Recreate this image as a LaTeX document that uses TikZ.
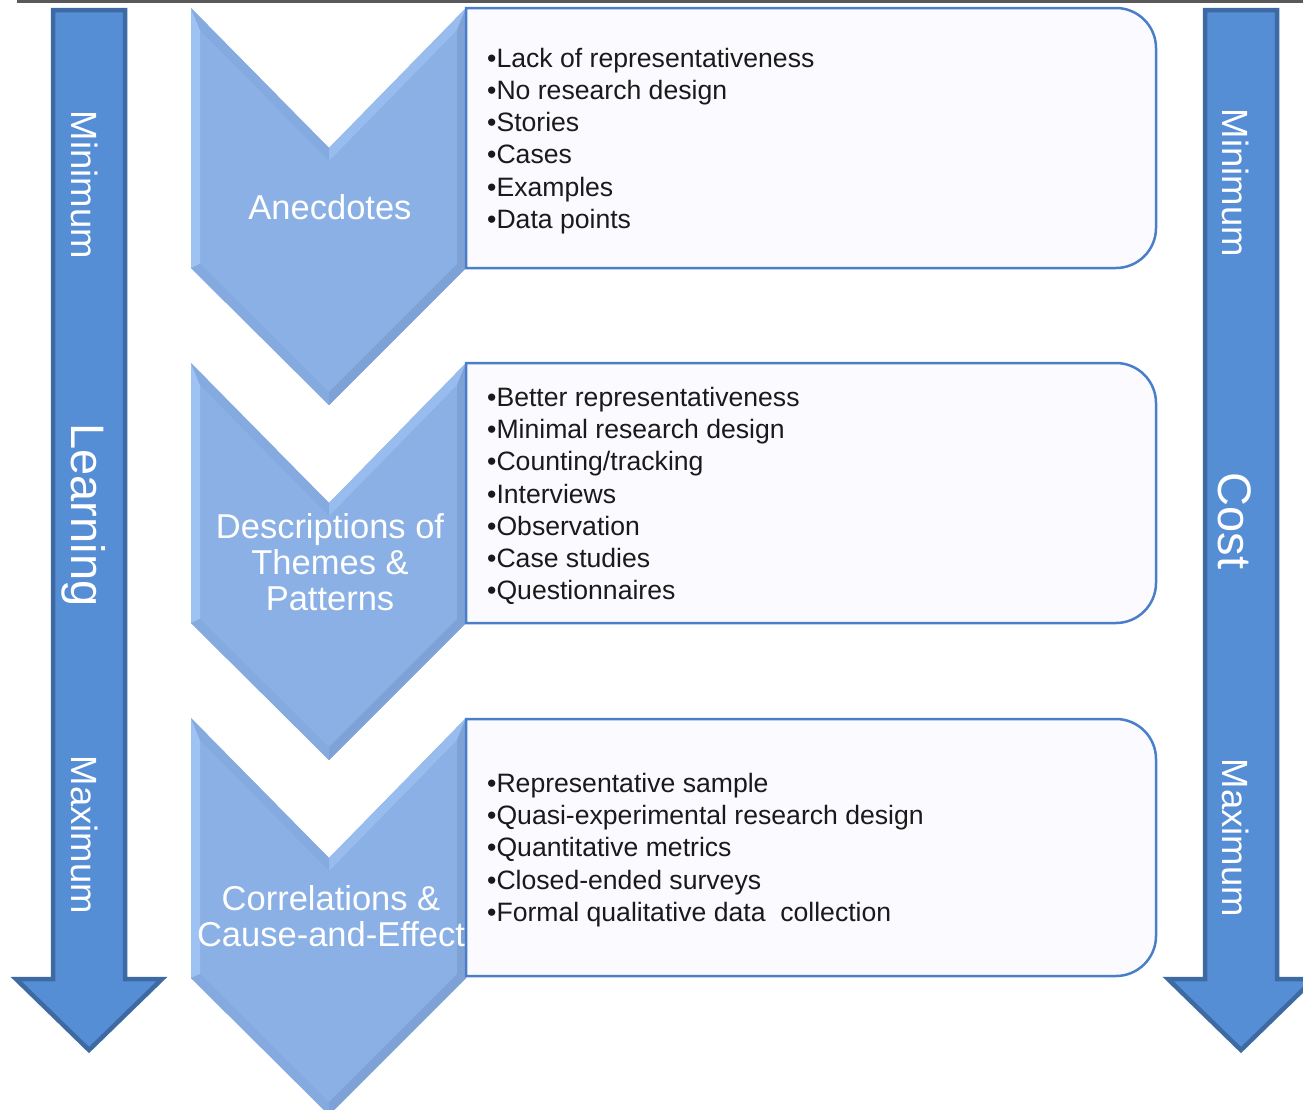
\documentclass[tikz,border=0pt]{standalone}
\usepackage{fontspec}
\setmainfont{Liberation Sans}
\definecolor{arrowfill}{HTML}{558ED5}
\definecolor{arrowline}{HTML}{3D6AA2}
\definecolor{boxline}{HTML}{4A7EC8}
\definecolor{boxfill}{HTML}{FBFBFF}
\definecolor{textcol}{HTML}{1A1A1A}
\definecolor{grayline}{HTML}{595959}
\definecolor{chevbase}{HTML}{8AB0E6}
\definecolor{chevlight}{HTML}{9EC2F2}
\definecolor{chevlight2}{HTML}{98BCEE}
\definecolor{chevdark}{HTML}{7FA2D6}
\definecolor{chevdark2}{HTML}{84AADF}
\begin{document}
\begin{tikzpicture}[x=1pt,y=-1pt,
  arrowshape/.style={fill=arrowfill, draw=arrowline, line width=4.5pt, line join=miter},
  vlabel/.style={text=white, rotate=-90, inner sep=0pt},
  vsmall/.style={vlabel, font=\fontsize{36.5}{40}\selectfont},
  vbig/.style={vlabel, font=\fontsize{47}{52}\selectfont},
  chevtext/.style={text=white, align=center, inner sep=0pt, font=\fontsize{34.5}{36}\selectfont},
  infobox/.style={draw=boxline, line width=2.5pt, fill=boxfill},
  boxtext/.style={text=textcol, align=left, anchor=west, inner sep=0pt, font=\fontsize{26.6}{32.2}\selectfont},
  chevshape/.pic={
    \fill[chevbase] (191,8) -- (329,148) -- (466,8) -- (466,268) -- (329,405) -- (191,268) -- cycle;
    \fill[chevlight] (191,8) -- (200,30) -- (200,264) -- (191,268) -- cycle;
    \fill[chevlight2] (329,148) -- (466,8) -- (457,30) -- (329,161) -- cycle;
    \fill[chevdark2] (191,8) -- (329,148) -- (329,161) -- (200,30) -- cycle;
    \fill[chevdark] (466,8) -- (466,268) -- (457,264) -- (457,30) -- cycle;
    \fill[chevdark2] (191,268) -- (329,405) -- (329,392) -- (200,264) -- cycle;
    \fill[chevdark] (466,268) -- (329,405) -- (329,392) -- (457,264) -- cycle;
  }
]
\useasboundingbox (0,0) rectangle (1303,1109);
\fill[white] (0,0) rectangle (1303,1109);

% top rule
\fill[grayline] (17,0) rectangle (1303,3);

% left and right arrows
\draw[arrowshape] (53,10) -- (125,10) -- (125,979) -- (162,979) -- (89,1050) -- (16,979) -- (53,979) -- cycle;
\begin{scope}
\clip (0,0) rectangle (1303,1109);
\draw[arrowshape] (1205,10) -- (1277,10) -- (1277,979) -- (1314,979) -- (1241,1050) -- (1168,979) -- (1205,979) -- cycle;
\end{scope}

\node[vsmall] (lmin) at (85,185) {Minimum};
\node[vbig]   (llearn) at (84,515) {Learning};
\node[vsmall] (lmax) at (85,835) {Maximum};
\node[vsmall] (rmin) at (1236,183) {Minimum};
\node[vbig]   (rcost) at (1235,521) {Cost};
\node[vsmall] (rmax) at (1236,838) {Maximum};

% chevrons
\pic at (0,0) {chevshape};
\pic at (0,355) {chevshape};
\pic at (0,710) {chevshape};

% boxes
\draw[infobox] (466,8) -- (1116,8) .. controls (1138,8) and (1156,26) .. (1156,48) -- (1156,228) .. controls (1156,250) and (1138,268) .. (1116,268) -- (466,268) -- cycle;
\draw[infobox] (466,363) -- (1116,363) .. controls (1138,363) and (1156,381) .. (1156,403) -- (1156,583) .. controls (1156,605) and (1138,623) .. (1116,623) -- (466,623) -- cycle;
\draw[infobox] (466,719) -- (1116,719) .. controls (1138,719) and (1156,737) .. (1156,759) -- (1156,936) .. controls (1156,958) and (1138,976) .. (1116,976) -- (466,976) -- cycle;

% chevron labels
\node[chevtext] (anec) at (330,207) {Anecdotes};
\node[chevtext] (desc) at (330,562) {Descriptions of\\Themes \&\\Patterns};
\node[chevtext] (corr) at (331,916) {Correlations \&\\Cause-and-Effect};

% box texts
\node[boxtext] (t1) at (487,141) {•Lack of representativeness\\•No research design\\•Stories\\•Cases\\•Examples\\•Data points};
\node[boxtext] (t2) at (487,496) {•Better representativeness\\•Minimal research design\\•Counting/tracking\\•Interviews\\•Observation\\•Case studies\\•Questionnaires};
\node[boxtext] (t3) at (487,850) {•Representative sample\\•Quasi-experimental research design\\•Quantitative metrics\\•Closed-ended surveys\\•Formal qualitative data\ \ collection};
\end{tikzpicture}
\end{document}
